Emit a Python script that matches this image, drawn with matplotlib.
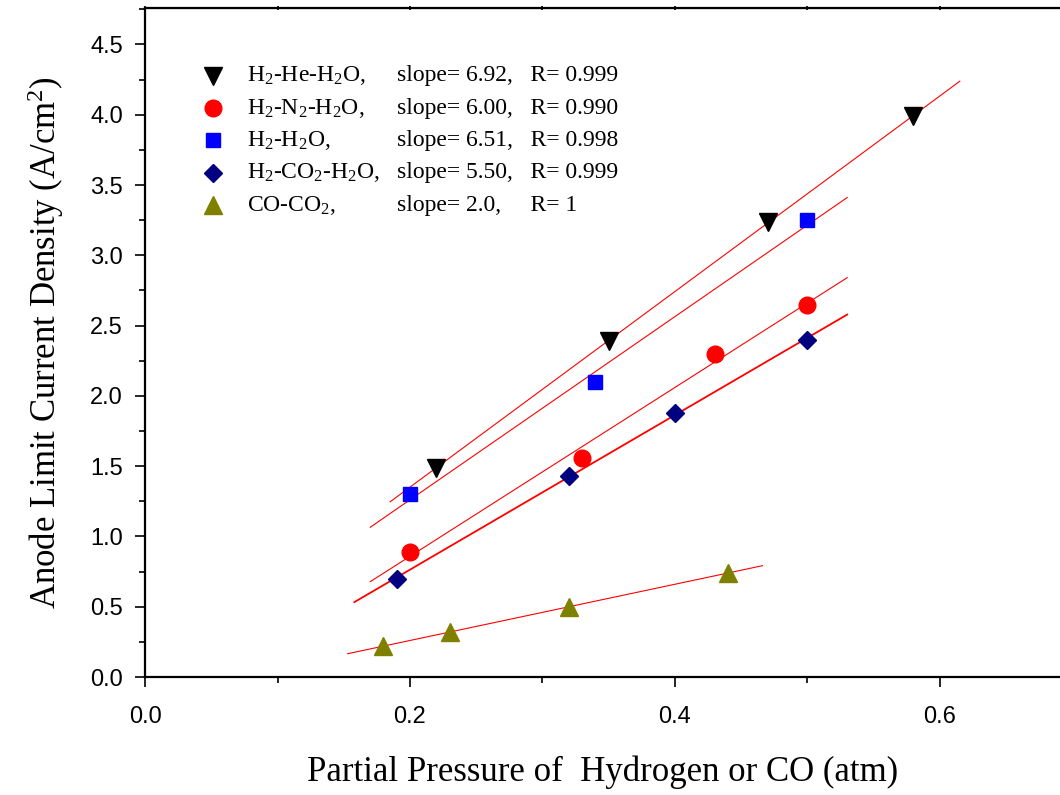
import matplotlib.pyplot as plt
import numpy as np

# data
he_x = [0.22, 0.35, 0.47, 0.58]
he_y = [1.49, 2.39, 3.24, 3.99]
n2_x = [0.20, 0.33, 0.43, 0.50]
n2_y = [0.89, 1.56, 2.30, 2.65]
h2o_x = [0.20, 0.34, 0.50]
h2o_y = [1.30, 2.10, 3.25]
co2_x = [0.19, 0.32, 0.40, 0.50]
co2_y = [0.70, 1.43, 1.88, 2.40]
co_x = [0.18, 0.23, 0.32, 0.44]
co_y = [0.22, 0.32, 0.50, 0.74]

# x range over which each fit line is drawn
he_fit = [0.185, 0.615]
n2_fit = [0.17, 0.53]
h2o_fit = [0.17, 0.53]
co2_fit = [0.158, 0.53]
co_fit = [0.153, 0.466]

names = [r"H$_2$-He-H$_2$O,", r"H$_2$-N$_2$-H$_2$O,", r"H$_2$-H$_2$O,",
         r"H$_2$-CO$_2$-H$_2$O,", r"CO-CO$_2$,"]
stats = ["slope= 6.92,   R= 0.999", "slope= 6.00,   R= 0.990",
         "slope= 6.51,   R= 0.998", "slope= 5.50,   R= 0.999",
         "slope= 2.0,     R= 1"]

series = [
    (he_x, he_y, he_fit, "v", "black", 13, 0.8),
    (n2_x, n2_y, n2_fit, "o", "#ff0000", 12, 0.8),
    (h2o_x, h2o_y, h2o_fit, "s", "#0000ff", 10.5, 0.8),
    (co2_x, co2_y, co2_fit, "D", "#000080", 9.5, 1.3),
    (co_x, co_y, co_fit, "^", "#808000", 13, 0.8),
]

plt.rcParams['mathtext.fontset'] = 'custom'
plt.rcParams['mathtext.rm'] = 'Liberation Serif'
plt.rcParams['mathtext.it'] = 'Liberation Serif:italic'

fig = plt.figure(figsize=(10.6, 7.95), dpi=100)
ax = fig.add_axes([0.1368, 0.1484, 0.8632, 0.8416])

for x, y, fr, m, c, ms, lw in series:
    k, b = np.polyfit(x, y, 1)
    xf = np.array(fr)
    ax.plot(xf, k * xf + b, color="#ff0000", lw=lw, zorder=2)
    ax.plot(x, y, linestyle="none", marker=m, color=c, markersize=ms, zorder=3)

# legend drawn by hand
rows = [0.899, 0.850, 0.802, 0.754, 0.705]
for i, (x, y, fr, m, c, ms, lw) in enumerate(series):
    ax.plot([0.0743], [rows[i]], transform=ax.transAxes, marker=m, color=c,
            markersize=ms, linestyle="none", clip_on=False)
    ax.text(0.112, rows[i], names[i], transform=ax.transAxes, va="center",
            fontsize=17, family="Liberation Serif")
    ax.text(0.275, rows[i], stats[i], transform=ax.transAxes, va="center",
            fontsize=17, family="Liberation Serif")

ax.set_xlim(0, 0.6906)
ax.set_ylim(0, 4.76)
ax.set_xticks([0.0, 0.2, 0.4, 0.6])
ax.set_xticks([0.1, 0.3, 0.5], minor=True)
ax.set_yticks(np.arange(0, 4.51, 0.5))
ax.set_yticks(np.arange(0.25, 4.76, 0.5), minor=True)
ax.set_xticklabels(["0.0", "0.2", "0.4", "0.6"])
ax.set_yticklabels(["%.1f" % v for v in np.arange(0, 4.51, 0.5)])

for lab in ax.get_xticklabels() + ax.get_yticklabels():
    lab.set_family("Liberation Sans")
    lab.set_fontsize(17)

ax.tick_params(which="major", direction="out", length=7, width=1.2, pad=9)
ax.tick_params(which="minor", direction="out", length=4, width=1.2)
ax.tick_params(axis="x", which="major", pad=14)
ax.secondary_xaxis("top").tick_params(direction="inout", length=3, width=1.2,
                                      labeltop=False)

for s in ["left", "bottom", "top"]:
    ax.spines[s].set_linewidth(1.6)
ax.spines["right"].set_visible(False)

ax.set_xlabel("Partial Pressure of  Hydrogen or CO (atm)", fontsize=25,
              family="Liberation Serif", labelpad=20)
ax.set_ylabel(r"Anode Limit Current Density (A/cm$^2$)", fontsize=25,
              family="Liberation Serif", labelpad=17)

plt.savefig("out.png", dpi=100)
